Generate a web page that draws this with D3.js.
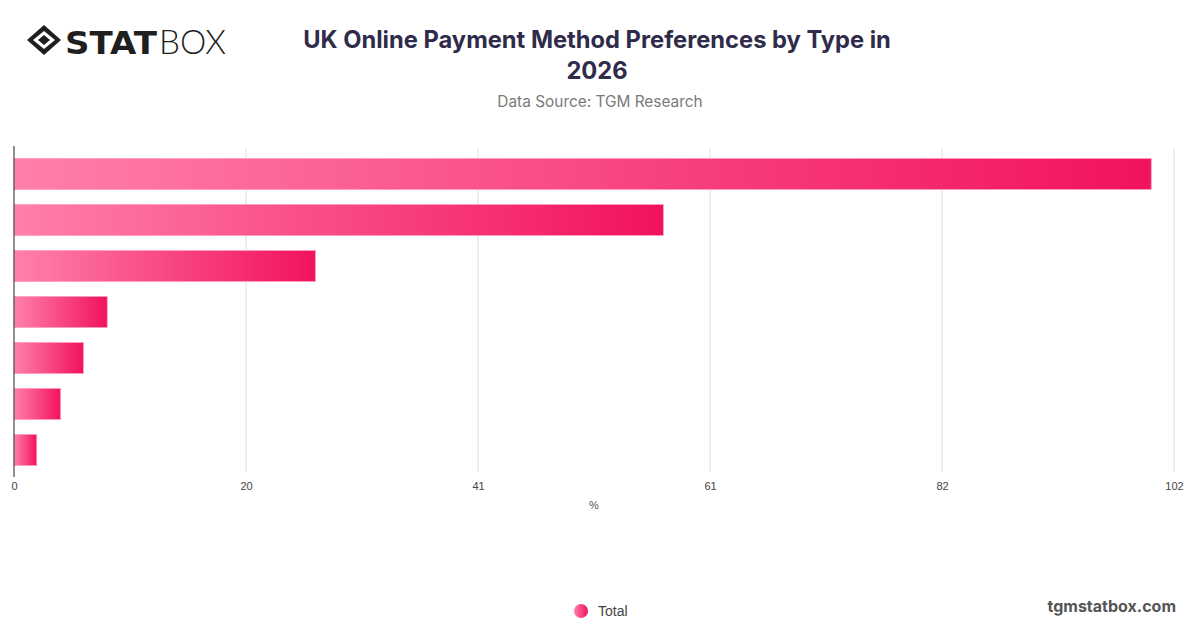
<!DOCTYPE html>
<html>
<head>
<meta charset="utf-8">
<script src="https://cdn.jsdelivr.net/npm/d3@7/dist/d3.min.js"></script>
<style>
  html, body { margin: 0; padding: 0; background: #fff; }
  svg { display: block; }
</style>
</head>
<body>
<svg id="chart" width="1200" height="628"></svg>
<script>
const categories = ["Method 1", "Method 2", "Method 3", "Method 4", "Method 5", "Method 6", "Method 7"];
const values = [100, 57.1, 26.5, 8.2, 6.1, 4.1, 2];
const tickValues = [0, 20.4, 40.8, 61.2, 81.6, 102];
const tickLabels = ["0", "20", "41", "61", "82", "102"];
const seriesName = "Total";
const titleLines = ["UK Online Payment Method Preferences by Type in", "2026"];
const subtitle = "Data Source: TGM Research";
const axisTitle = "%";

const svg = d3.select("#chart");
const margin = {left: 14, right: 26, top: 150, bottom: 156};
const W = 1200, H = 628;

const x = d3.scaleLinear().domain([0, 102]).range([margin.left, W - margin.right]);
const y = d3.scaleBand().domain(categories).range([margin.top + 1, H - margin.bottom + 1]).paddingInner(0.326).paddingOuter(0.163);

const defs = svg.append("defs");
const grad = defs.append("linearGradient").attr("id", "barGrad")
  .attr("x1", "0%").attr("y1", "0%").attr("x2", "100%").attr("y2", "0%");
grad.append("stop").attr("offset", "0%").attr("stop-color", "#ff80aa");
grad.append("stop").attr("offset", "100%").attr("stop-color", "#f2125f");
const lgrad = defs.append("linearGradient").attr("id", "legGrad")
  .attr("x1", "0%").attr("y1", "0%").attr("x2", "100%").attr("y2", "0%");
lgrad.append("stop").attr("offset", "0%").attr("stop-color", "#ff80aa");
lgrad.append("stop").attr("offset", "100%").attr("stop-color", "#f2125f");

// grid lines
svg.append("g").selectAll("line").data(tickValues.slice(1)).join("line")
  .attr("x1", d => x(d)).attr("x2", d => x(d))
  .attr("y1", margin.top - 1).attr("y2", H - margin.bottom)
  .attr("stroke", "#dcdcdc").attr("stroke-width", 1);

// bars
svg.append("g").selectAll("rect").data(values).join("rect")
  .attr("x", x(0))
  .attr("y", (d, i) => y(categories[i]))
  .attr("width", d => x(d) - x(0))
  .attr("height", y.bandwidth())
  .attr("fill", "url(#barGrad)")
  .attr("stroke", "#ff9cc0").attr("stroke-width", 0.8);

// x axis
const xAxis = d3.axisBottom(x).tickValues(tickValues).tickFormat((d, i) => tickLabels[i]).tickSize(0).tickPadding(10);
const gx = svg.append("g").attr("transform", `translate(0,${H - margin.bottom})`).call(xAxis);
gx.select(".domain").remove();
gx.selectAll("text").attr("font-family", "Helvetica, Arial, 'Liberation Sans', sans-serif").attr("font-size", 11).attr("fill", "#444");

// left axis line
svg.append("line").attr("x1", x(0)).attr("x2", x(0))
  .attr("y1", margin.top - 4).attr("y2", H - margin.bottom + 5)
  .attr("stroke", "#555").attr("stroke-width", 1.3);

// axis title
svg.append("text").attr("x", (x(0) + x(102)) / 2).attr("y", 509).attr("text-anchor", "middle")
  .attr("font-family", "Helvetica, Arial, 'Liberation Sans', sans-serif").attr("font-size", 11).attr("fill", "#555").text(axisTitle);

// title
svg.append("g").selectAll("text").data(titleLines).join("text")
  .attr("x", 597).attr("y", (d, i) => 48 + i * 31).attr("text-anchor", "middle")
  .attr("font-family", "Inter, 'Noto Sans', sans-serif").attr("font-weight", 700).attr("font-size", 23.7)
  .attr("fill", "#2f2c4b").text(d => d);
svg.append("text").attr("x", 600).attr("y", 107).attr("text-anchor", "middle")
  .attr("font-family", "Inter, 'Noto Sans', sans-serif").attr("font-size", 15.4).attr("fill", "#7a7a7a").text(subtitle);

// legend
svg.append("circle").attr("cx", 581).attr("cy", 611).attr("r", 7).attr("fill", "url(#legGrad)");
svg.append("text").attr("x", 598).attr("y", 616).attr("font-family", "Helvetica, Arial, 'Liberation Sans', sans-serif")
  .attr("font-size", 14).attr("fill", "#444").text(seriesName);

// watermark
svg.append("text").attr("x", 1176).attr("y", 612).attr("text-anchor", "end")
  .attr("font-family", "Inter, 'Noto Sans', sans-serif").attr("font-weight", 700).attr("font-size", 16)
  .attr("fill", "#555").text("tgmstatbox.com");

// logo
const logo = svg.append("g").attr("transform", "translate(27,25)");
logo.append("path").attr("d", "M17,0 L34,15 L17,30 L0,15 Z").attr("fill", "#1f1f1f");
logo.append("path").attr("d", "M17,6 L28,15 L17,24 L6,15 Z").attr("fill", "#fff");
logo.append("path").attr("d", "M17,10 L23,15 L17,20 L11,15 Z").attr("fill", "#1f1f1f");
logo.append("text").attr("x", 38).attr("y", 29)
  .attr("font-family", "'DejaVu Sans', sans-serif").attr("font-weight", 900).attr("font-size", 32)
  .attr("fill", "#1f1f1f").attr("textLength", 92).attr("lengthAdjust", "spacingAndGlyphs").text("STAT");
logo.append("text").attr("x", 132).attr("y", 29)
  .attr("font-family", "'Lato', 'DejaVu Sans', sans-serif").attr("font-weight", 300).attr("font-size", 33)
  .attr("fill", "#1f1f1f").attr("textLength", 67).attr("lengthAdjust", "spacingAndGlyphs").text("BOX");
</script>
</body>
</html>
